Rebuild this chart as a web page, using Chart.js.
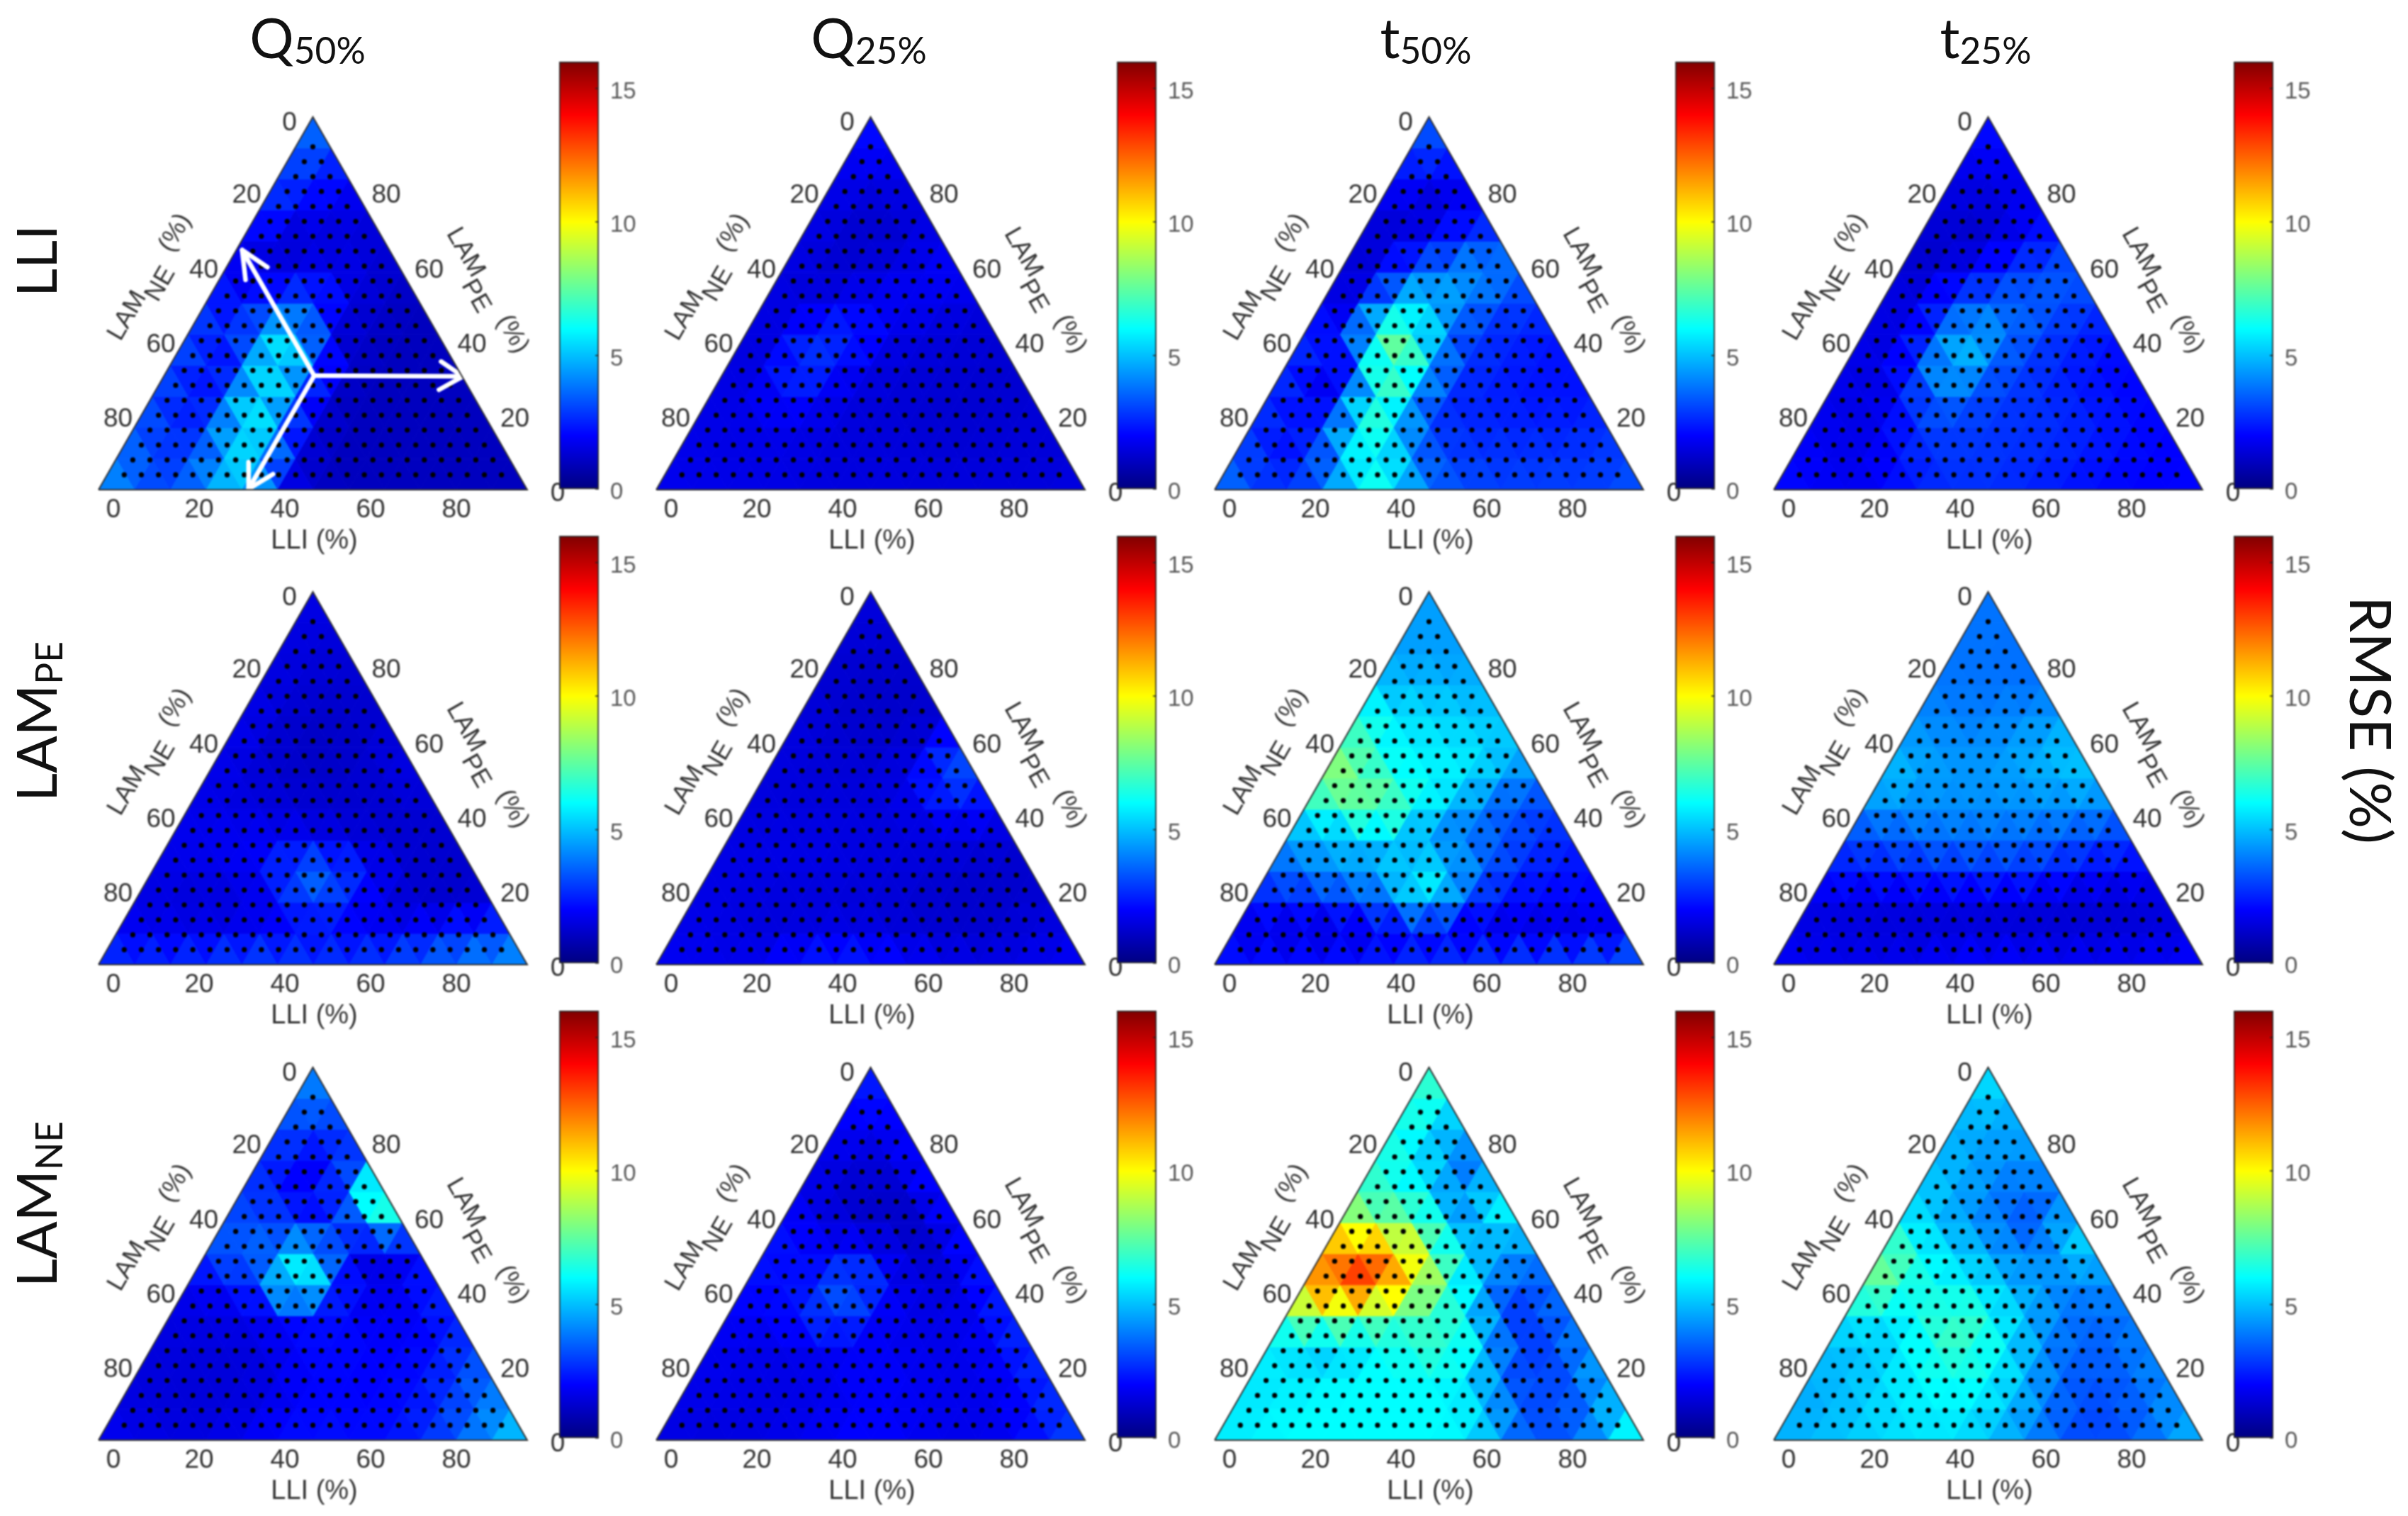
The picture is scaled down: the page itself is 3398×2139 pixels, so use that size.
<!DOCTYPE html>
<html>
<head>
<meta charset="utf-8">
<title>RMSE ternary maps</title>
<script src="https://cdn.jsdelivr.net/npm/chart.js@4/dist/chart.umd.min.js"></script>
<style>
  html, body { margin: 0; background: #fff; }
  #fig { position: relative; width: 3398px; height: 2139px; overflow: hidden; }
  canvas { position: absolute; filter: blur(1px); }
  .big { position: absolute; font-family: Lato, sans-serif; color: #111; white-space: nowrap; line-height: 1; filter: blur(.6px); }
  .big sub { font-size: .66em; vertical-align: baseline; position: relative; top: .16em; }
</style>
</head>
<body>
<div id="fig"></div>
<script>
// tick labels
const lliTicks = [0, 20, 40, 60, 80];
const lamNeTicks = [0, 20, 40, 60, 80];
const lamPeTicks = [0, 20, 40, 60, 80];
const colorTicks = [0, 5, 10, 15];

const colTitles = [['Q', '50%'], ['Q', '25%'], ['t', '50%'], ['t', '25%']];
const rowLabels = [['LLI', ''], ['LAM', 'PE'], ['LAM', 'NE']];

// RMSE values. top row of the triangle first, left to right
const q50Lli = [
  [4],
  [3.5, 3],
  [3, 2.5, 2],
  [3, 2, 1.8, 1.5],
  [2, 1.3, 1.3, 1.5, 1.3],
  [2, 1.5, 1.8, 1.8, 1.5, 1.2],
  [3, 2, 3, 3.2, 1.5, 1.2, 1],
  [3.5, 2, 4.5, 5.5, 1.5, 1.2, 1, 1],
  [3.5, 2, 3, 6.5, 3.5, 1.2, 1, 1, 1],
  [3.5, 2, 3, 6.5, 3, 1.2, 1, 1, 1, 1],
  [3.5, 2.5, 3, 6, 4, 1.5, 1, 1, 1, 1, 1],
  [4, 3, 3, 4.5, 5.5, 1.5, 1, 1, 1, 1, 1, 1],
  [4.5, 3.5, 3, 4.5, 5.5, 2, 1.2, 1, 1, 1, 1, 1, 1]
];
const q25Lli = [
  [2.3],
  [2, 2],
  [1.8, 1.6, 1.7],
  [1.7, 1.4, 1.3, 1.6],
  [1.8, 1.3, 1.2, 1.4, 1.8],
  [1.6, 1.3, 1.4, 1.6, 1.8, 2],
  [1.6, 1.5, 1.7, 1.9, 1.9, 1.7, 1.5],
  [1.5, 1.6, 2.7, 2.7, 1.7, 1.5, 1.4, 1.4],
  [1.5, 1.6, 3.2, 2.2, 1.6, 1.4, 1.4, 1.3, 1.3],
  [1.6, 1.7, 2.2, 1.9, 1.5, 1.4, 1.3, 1.3, 1.3, 1.3],
  [1.7, 1.6, 1.7, 1.7, 1.5, 1.4, 1.4, 1.3, 1.3, 1.4, 1.4],
  [1.7, 1.6, 1.6, 1.6, 1.5, 1.5, 1.5, 1.4, 1.4, 1.4, 1.4, 1.4],
  [1.8, 1.7, 1.7, 1.6, 1.6, 1.5, 1.5, 1.5, 1.5, 1.5, 1.5, 1.5, 1.6]
];
const t50Lli = [
  [3.5],
  [3, 3],
  [2.5, 1.8, 2],
  [1.6, 1.3, 1.5, 2],
  [1.4, 1.4, 2, 3, 3],
  [1.2, 1.6, 3.5, 4, 4.5, 3.5],
  [1.5, 2, 5, 5.5, 4, 3, 3],
  [3, 2, 7, 7, 3.5, 2.8, 2.5, 2.3],
  [3, 1.7, 3, 8.5, 5, 2.8, 2.5, 2.3, 2.2],
  [3, 1.8, 2, 7.5, 4.5, 2.6, 2.5, 2.3, 2.3, 2.3],
  [3, 2, 3, 6.5, 5.5, 3, 2.6, 2.6, 2.5, 2.5, 2.8],
  [3.5, 2.3, 2.5, 4.5, 6.5, 4, 3, 2.8, 2.8, 2.8, 2.8, 3],
  [4, 3, 3, 3.5, 6, 6, 3.7, 3.2, 3, 3, 3, 3, 3.5]
];
const t25Lli = [
  [2.3],
  [2, 2],
  [1.7, 1.6, 1.8],
  [1.6, 1.3, 1.6, 1.9],
  [1.3, 1.2, 1.3, 2, 2.6],
  [1.4, 1.3, 2, 2.8, 3.2, 3.5],
  [1.6, 1.6, 3, 3.4, 3.6, 3.2, 2.8],
  [1.7, 1.5, 3, 5.2, 3.8, 3, 2.6, 2.3],
  [1.8, 1.5, 3, 5.5, 3.6, 2.9, 2.5, 2.2, 2],
  [1.8, 1.5, 2, 3.8, 3.2, 2.9, 2.7, 2.4, 2.2, 2],
  [1.9, 1.6, 1.8, 2.8, 3, 2.8, 2.7, 2.7, 2.4, 2.2, 2],
  [2, 1.8, 1.7, 2.2, 2.8, 2.8, 2.8, 2.6, 2.4, 2.2, 2, 2],
  [2.2, 2, 1.8, 2, 2.4, 2.7, 2.7, 2.5, 2.3, 2.1, 2, 2, 2.1]
];
const q50Pe = [
  [1.6],
  [1.6, 1.5],
  [1.6, 1.4, 1.4],
  [1.6, 1.4, 1.3, 1.3],
  [1.8, 1.4, 1.2, 1.2, 1.3],
  [1.8, 1.4, 1.1, 1.1, 1.3, 1.6],
  [1.7, 1.5, 1.3, 1.2, 1.2, 1.4, 1.6],
  [1.7, 1.6, 1.5, 1.4, 1.3, 1.3, 1.3, 1.3],
  [1.7, 1.8, 1.9, 1.9, 1.8, 1.5, 1.3, 1.3, 1.3],
  [1.7, 1.6, 1.7, 1.9, 3.6, 3.6, 2.2, 1.4, 1.2, 1.2],
  [1.6, 1.5, 1.4, 1.5, 1.9, 3.2, 2.2, 1.5, 1.3, 1.3, 1.5],
  [2, 1.8, 1.8, 1.8, 1.9, 2, 2, 1.9, 2, 2.4, 2.8, 3],
  [2.8, 2.8, 2.8, 3, 3.3, 3.2, 3, 3, 3.2, 3.6, 4, 4.4, 4.6]
];
const q25Pe = [
  [1.5],
  [1.4, 1.4],
  [1.4, 1.3, 1.3],
  [1.4, 1.2, 1.2, 1.2],
  [1.5, 1.3, 1.2, 1.2, 1.4],
  [1.6, 1.4, 1.3, 1.3, 1.5, 3.2],
  [1.5, 1.4, 1.4, 1.4, 1.7, 3.2, 2.8],
  [1.5, 1.5, 1.5, 1.5, 1.5, 1.8, 2.2, 1.9],
  [1.6, 1.6, 1.6, 1.6, 1.5, 1.5, 1.5, 1.5, 1.4],
  [1.6, 1.6, 1.6, 1.6, 1.5, 1.5, 1.4, 1.3, 1.2, 1.2],
  [1.6, 1.6, 1.5, 1.4, 1.4, 1.4, 1.3, 1.2, 1.2, 1.3, 1.4],
  [1.7, 1.7, 1.5, 1.5, 1.7, 1.7, 1.5, 1.4, 1.3, 1.3, 1.5, 1.6],
  [1.9, 1.8, 1.7, 1.9, 2.4, 2.6, 2.5, 2.1, 1.8, 1.7, 1.7, 1.8, 2]
];
const t50Pe = [
  [4.5],
  [4.5, 4.5],
  [4.5, 4.5, 4.5],
  [5, 5, 4.8, 4.8],
  [7, 5.5, 5.5, 5.2, 5],
  [7.5, 6.3, 5.8, 5.6, 5.5, 5],
  [8.5, 8, 6.2, 6, 5.8, 4.5, 4],
  [6, 6.5, 8, 6.5, 5, 3.8, 3, 3],
  [4.5, 4.8, 5, 4.8, 4, 3.8, 3.5, 2.8, 2.5],
  [3.3, 3.8, 4.5, 4.5, 6, 5.5, 3.5, 2.5, 2.3, 2.2],
  [2.5, 2.5, 2.6, 3, 4, 5.5, 3, 2.2, 2, 2, 2],
  [1.5, 1.4, 1.3, 1.3, 1.5, 1.8, 1.6, 1.5, 1.5, 1.5, 1.6, 1.8],
  [2.5, 2.5, 2.5, 2.5, 2.6, 2.8, 3, 3.2, 3.3, 3.3, 3.5, 3.6, 3.8]
];
const t25Pe = [
  [3.8],
  [3.8, 3.8],
  [3.8, 3.8, 3.7],
  [3.9, 3.8, 3.8, 3.8],
  [4.2, 4, 4, 4.2, 4.4],
  [4.6, 4.4, 4.2, 4.4, 4.8, 5.2],
  [5.2, 4.6, 4.4, 4.4, 4.6, 4.8, 5],
  [4.2, 4.2, 4.2, 4.2, 4.2, 4.2, 4.2, 4],
  [3, 3.2, 3.6, 3.7, 3.7, 3.6, 3.4, 3, 2.8],
  [2.4, 2.4, 2.5, 2.6, 2.7, 2.8, 2.6, 2.2, 2, 2],
  [1.7, 1.6, 1.6, 1.6, 1.6, 1.6, 1.5, 1.4, 1.4, 1.4, 1.5],
  [1.6, 1.5, 1.5, 1.4, 1.4, 1.4, 1.4, 1.4, 1.4, 1.4, 1.5, 1.6],
  [2, 1.9, 1.8, 1.8, 1.9, 2.2, 2.2, 2.1, 2, 2, 2, 2, 2.1]
];
const q50Ne = [
  [4.5],
  [3.7, 3.5],
  [3.2, 3, 3],
  [3, 2, 2, 3.5],
  [3, 2.2, 1.8, 4, 9.5],
  [3, 3.2, 3, 1.8, 4.5, 5],
  [3.2, 3.7, 3.6, 6, 1.8, 1.5, 2],
  [1.8, 2, 3, 7.5, 3, 1.7, 1.9, 2.7],
  [1.6, 1.6, 1.7, 2, 2.2, 2, 1.8, 1.9, 2.6],
  [1.5, 1.5, 1.5, 1.5, 2, 2.2, 2, 2, 2.2, 3],
  [1.5, 1.4, 1.4, 1.4, 1.7, 2, 2, 2, 2.2, 3, 3.8],
  [1.6, 1.5, 1.4, 1.5, 1.6, 2, 2.1, 2, 2.2, 2.6, 3.5, 4.5],
  [1.9, 1.7, 1.6, 1.6, 1.8, 2.2, 2.2, 2.2, 2.2, 2.6, 3.5, 4.5, 5.5]
];
const q25Ne = [
  [2.6],
  [2.2, 2.2],
  [2, 1.8, 2],
  [1.8, 1.4, 1.5, 2.3],
  [1.7, 1.4, 1.2, 1.3, 2.4],
  [2.2, 1.7, 1.3, 1.1, 1.2, 2.2],
  [2.4, 2, 2, 2.2, 1.3, 1.4, 2.5],
  [2.2, 2, 2.5, 3.8, 2, 1.5, 1.6, 2.5],
  [2, 1.9, 2.4, 3.3, 2, 1.7, 1.6, 1.9, 2.7],
  [1.8, 1.7, 1.7, 1.8, 1.9, 1.8, 1.7, 1.7, 2, 2.8],
  [1.7, 1.7, 1.6, 1.6, 1.8, 2, 1.9, 1.7, 1.7, 2, 2.8],
  [1.7, 1.6, 1.6, 1.6, 1.7, 1.9, 1.9, 1.8, 1.7, 1.7, 2.2, 2.9],
  [1.6, 1.5, 1.5, 1.6, 1.8, 2, 2.1, 1.9, 1.7, 1.7, 1.9, 2.5, 3.2]
];
const t50Ne = [
  [7],
  [7, 6],
  [6.5, 5.5, 4.5],
  [6.8, 5.8, 4.5, 3.8],
  [7.2, 6.2, 5.8, 3.6, 7],
  [9, 8, 8, 5, 4.8, 5.5],
  [10.5, 13, 11, 8.5, 5.3, 4.5, 4.3],
  [11.5, 13, 13, 10, 7, 4.8, 3, 3.8],
  [7.5, 8.5, 8, 7, 6.8, 6, 3, 3, 4],
  [6, 5.2, 5, 6, 6.5, 7, 5.5, 3, 3, 4.5],
  [5.6, 5.6, 5.8, 6, 6, 6, 5.6, 3.5, 3, 3.5, 5],
  [5.6, 5.8, 6, 6, 6, 6, 6, 5.5, 3.5, 3, 3.8, 5.5],
  [5.8, 5.8, 6, 6, 6, 6, 6, 5.8, 4.2, 3.2, 3.6, 5, 7]
];
const t25Ne = [
  [5.8],
  [5.3, 5],
  [4.8, 4.6, 4.6],
  [5, 4.6, 4.3, 4.4],
  [5.4, 4.8, 4.2, 3.5, 4.2],
  [6, 5, 4.3, 3.7, 3.3, 5.6],
  [8, 6.3, 5.5, 4.8, 3.9, 4.8, 5.2],
  [8, 6.8, 6, 5.7, 5, 4.3, 4, 4.3],
  [6, 5.6, 6, 7.2, 6.2, 5, 4, 3.6, 3.9],
  [5, 5, 5.6, 6.5, 6.8, 5.6, 4.2, 3.5, 3.6, 4.2],
  [4.8, 5, 5.4, 6, 6.2, 6, 5, 3.6, 3.3, 3.6, 4.2],
  [4.6, 4.8, 5.2, 5.6, 5.8, 5.8, 5, 4, 3.2, 3.2, 3.7, 4.6],
  [4.8, 5, 5.2, 5.4, 5.6, 5.5, 5, 4.4, 3.4, 3, 3.4, 4.2, 5]
];

const panelGrid = [
  [q50Lli, q25Lli, t50Lli, t25Lli],
  [q50Pe, q25Pe, t50Pe, t25Pe],
  [q50Ne, q25Ne, t50Ne, t25Ne]
];

// the three white arrows of the first panel, in plot units (x along base, y up)
const arrowFrom = { x: 50.3, y: 30.6 };
const arrowTips = [
  [{ x: 39.4, y: 59.7 }, { x: 33.5, y: 64.3 }, { x: 34.3, y: 56.3 }],
  [{ x: 79.9, y: 34.4 }, { x: 85, y: 30.4 }, { x: 79.4, y: 26.8 }],
  [{ x: 40.7, y: 4.2 }, { x: 35, y: 0.2 }, { x: 35, y: 7.4 }]
];

// sample lattice (black dots), every 4 %
const latticeLevels = [0, 4, 8, 12, 16, 20, 24, 28, 32, 36, 40, 44, 48, 52, 56, 60, 64, 68, 72, 76, 80, 84, 88, 92, 96, 100];

const colMax = 16;
const apexX = [441, 1228, 2016, 2805];
const apexY = [165, 835, 1506];
const barLeft = [789, 1576, 2364, 3152];
const barTop = [87, 756, 1426];
const triW = 605, triH = 526;
const pad = { left: 125, right: 70, top: 30, bottom: 95 };
const tickFont = '37px "Liberation Sans", Arial, sans-serif';
const labelFont = '36px "Liberation Sans", Arial, sans-serif';
const textCol = '#333';

const fig = document.getElementById('fig');

function clamp01(v) { return Math.max(0, Math.min(1, v)); }

function jet(t) {
  const r = clamp01(1.5 - Math.abs(4 * t - 3));
  const g = clamp01(1.5 - Math.abs(4 * t - 2));
  const b = clamp01(1.5 - Math.abs(4 * t - 1));
  return `rgb(${Math.round(r * 255)},${Math.round(g * 255)},${Math.round(b * 255)})`;
}

// flat shaded mesh: one filled triangle per three neighbouring samples
function cellDatasets(rows) {
  const s = 100 / (rows.length - 1);
  const node = (i, j) => ({ x: 50 - i * s / 2 + j * s, y: 100 - i * s, v: rows[i][j] });
  const sets = [];
  const addTri = (a, b, c) => {
    const col = jet((a.v + b.v + c.v) / 3 / colMax);
    sets.push({
      data: [a, b, c, a],
      showLine: true,
      fill: 'shape',
      backgroundColor: col,
      borderColor: col,
      borderWidth: 1,
      pointRadius: 0
    });
  };
  for (let i = 0; i < rows.length - 1; i++) {
    for (let j = 0; j <= i; j++) {
      addTri(node(i, j), node(i + 1, j), node(i + 1, j + 1));
      if (j < i) addTri(node(i, j), node(i, j + 1), node(i + 1, j + 1));
    }
  }
  return sets;
}

// dots only inside the triangle, none on its edges
function dotPoints() {
  const pts = [];
  latticeLevels.filter(n => n < 100).forEach(n => {
    latticeLevels.filter(l => l > 0 && l < n).forEach(l => {
      pts.push({ x: 50 - n / 2 + l, y: 100 - n });
    });
  });
  return pts;
}

function drawAxisTitle(ctx, cx, cy, angle, main, sub, tail) {
  ctx.save();
  ctx.translate(cx, cy);
  ctx.rotate(angle);
  ctx.font = labelFont;
  ctx.textAlign = 'left';
  ctx.textBaseline = 'middle';
  ctx.fillStyle = textCol;
  const w1 = ctx.measureText(main).width;
  const w2 = ctx.measureText(sub).width;
  const w3 = ctx.measureText(tail).width;
  let x = -(w1 + w2 + w3) / 2;
  ctx.fillText(main, x, 0);
  x += w1;
  ctx.fillText(sub, x, 18);
  x += w2;
  ctx.fillText(tail, x, 0);
  ctx.restore();
}

const ternaryText = {
  id: 'ternaryText',
  afterDraw(chart) {
    const { ctx, scales: { x, y } } = chart;
    const px = v => x.getPixelForValue(v);
    const py = v => y.getPixelForValue(v);
    ctx.save();
    ctx.font = tickFont;
    ctx.fillStyle = textCol;
    ctx.textAlign = 'center';
    ctx.textBaseline = 'middle';
    lliTicks.forEach(v => ctx.fillText(String(v), px(v) + 21, py(0) + 29));
    lamNeTicks.forEach(v => ctx.fillText(String(v), px(50 - v / 2) - 33, py(100 - v) + (v ? 6 : 9)));
    lamPeTicks.forEach(v => ctx.fillText(String(v), px(100 - v / 2) + 43, py(v) + 6));
    ctx.font = '38px "Liberation Sans", Arial, sans-serif';
    ctx.fillText('LLI (%)', px(50) + 2, py(0) + 73);
    ctx.restore();
    drawAxisTitle(ctx, px(50) - 230, py(100) + 226, -Math.PI / 3, 'LAM', 'NE', '  (%)');
    drawAxisTitle(ctx, px(50) + 246, py(100) + 245, Math.PI / 3, 'LAM', 'PE', '  (%)');
  }
};

function makeCanvas(left, top, w, h) {
  const c = document.createElement('canvas');
  c.width = w;
  c.height = h;
  c.style.left = left + 'px';
  c.style.top = top + 'px';
  c.style.width = w + 'px';
  c.style.height = h + 'px';
  fig.appendChild(c);
  return c;
}

function drawTernary(rows, r, c) {
  const canvas = makeCanvas(apexX[c] - triW / 2 - pad.left, apexY[r] - pad.top, pad.left + triW + pad.right, pad.top + triH + pad.bottom);
  const sets = [{
    data: [{ x: 0, y: 0 }, { x: 100, y: 0 }, { x: 50, y: 100 }, { x: 0, y: 0 }],
    showLine: true,
    borderColor: '#333',
    borderWidth: 2,
    pointRadius: 0,
    clip: 4
  }];
  if (r === 0 && c === 0) {
    arrowTips.forEach(tip => {
      const common = { showLine: true, borderColor: '#fff', borderWidth: 6.5, pointRadius: 0, borderCapStyle: 'round', borderJoinStyle: 'round' };
      sets.push(Object.assign({ data: tip }, common));
      sets.push(Object.assign({ data: [arrowFrom, tip[1]] }, common));
    });
  }
  sets.push({
    data: dotPoints(),
    pointRadius: 3.6,
    pointBackgroundColor: '#000',
    pointBorderWidth: 0
  });
  new Chart(canvas, {
    type: 'scatter',
    data: { datasets: sets.concat(cellDatasets(rows)) },
    options: {
      animation: false,
      responsive: false,
      devicePixelRatio: 1,
      events: [],
      layout: { padding: pad },
      plugins: { legend: { display: false }, tooltip: { enabled: false } },
      scales: {
        x: { type: 'linear', min: 0, max: 100, display: false },
        y: { type: 'linear', min: 0, max: 100, display: false }
      }
    },
    plugins: [ternaryText]
  });
}

const colorTickMarks = {
  id: 'colorTickMarks',
  afterDatasetsDraw(chart) {
    const { ctx, chartArea, scales: { y } } = chart;
    ctx.save();
    ctx.strokeStyle = '#222';
    ctx.lineWidth = 1.5;
    y.ticks.forEach(t => {
      const yp = y.getPixelForValue(t.value);
      ctx.beginPath();
      ctx.moveTo(chartArea.right - 5, yp);
      ctx.lineTo(chartArea.right, yp);
      ctx.stroke();
    });
    ctx.restore();
  }
};

function drawColorbar(r, c) {
  const canvas = makeCanvas(barLeft[c] - 3, barTop[r] - 12, 125, 603 + 34);
  new Chart(canvas, {
    type: 'bar',
    data: {
      labels: ['RMSE'],
      datasets: [{
        data: [[0, colMax]],
        barPercentage: 1,
        categoryPercentage: 1,
        borderColor: '#2a2a2a',
        borderWidth: 2,
        borderSkipped: false,
        backgroundColor(ctx) {
          const area = ctx.chart.chartArea;
          if (!area) return '#00f';
          const g = ctx.chart.ctx.createLinearGradient(0, area.bottom, 0, area.top);
          [0, .125, .375, .625, .875, 1].forEach(t => g.addColorStop(t, jet(t)));
          return g;
        }
      }]
    },
    options: {
      animation: false,
      responsive: false,
      devicePixelRatio: 1,
      events: [],
      layout: { padding: { left: 3, right: 0, top: 12, bottom: 22 } },
      plugins: { legend: { display: false }, tooltip: { enabled: false } },
      scales: {
        x: { display: false },
        y: {
          position: 'right',
          min: 0,
          max: colMax,
          afterBuildTicks: s => { s.ticks = colorTicks.map(v => ({ value: v })); },
          afterFit: s => { s.width = 66; s.paddingTop = 0; s.paddingBottom = 0; },
          border: { display: false },
          grid: { display: false },
          ticks: { padding: 8, labelOffset: 5, color: '#5a5a5a', font: { family: '"Liberation Sans", Arial, sans-serif', size: 33 } }
        }
      }
    },
    plugins: [colorTickMarks]
  });
}

function bigText(html, x, y, fontSize, rot) {
  const d = document.createElement('div');
  d.className = 'big';
  d.innerHTML = html;
  d.style.left = x + 'px';
  d.style.top = y + 'px';
  d.style.fontSize = fontSize + 'px';
  d.style.transform = `translate(-50%, -50%) rotate(${rot}deg)`;
  fig.appendChild(d);
}

panelGrid.forEach((row, r) => row.forEach((rows, c) => drawTernary(rows, r, c)));
panelGrid.forEach((row, r) => row.forEach((rows, c) => drawColorbar(r, c)));

const titleX = [434, 1226, 2012, 2802];
colTitles.forEach((t, c) => bigText(`${t[0]}<sub>${t[1]}</sub>`, titleX[c], 52, 78, 0));
const rowLabelY = [368, 1018, 1699];
rowLabels.forEach((t, r) => bigText(t[1] ? `${t[0]}<sub>${t[1]}</sub>` : t[0], 50, rowLabelY[r], 78, -90));
bigText('RMSE (%)', 3348, 1016, 82, 90);
</script>
</body>
</html>
